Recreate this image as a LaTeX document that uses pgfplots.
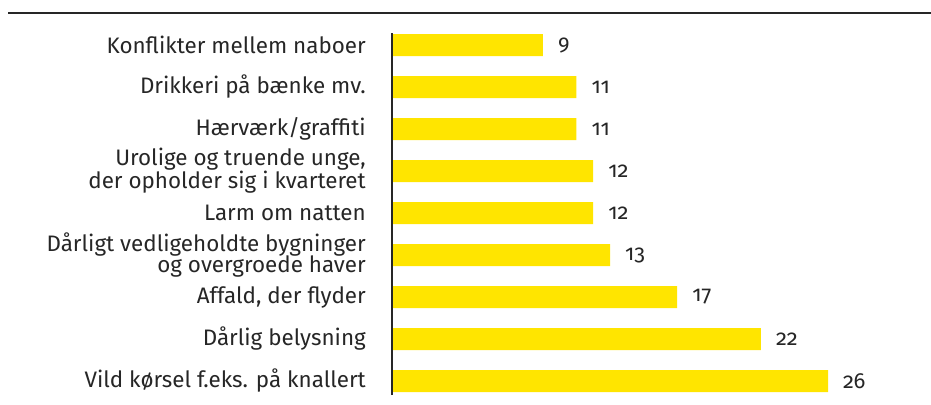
\documentclass[border=0pt]{standalone}
\usepackage{fontspec}
\setmainfont{Fira Sans}[Numbers=OldStyle]
\usepackage{pgfplots}
\pgfplotsset{compat=1.18}
\definecolor{baryellow}{HTML}{FFE500}
\definecolor{txt}{HTML}{262626}
\begin{document}
\begin{tikzpicture}
\begin{axis}[
  at={(392bp,10bp)}, anchor=south west,
  scale only axis, width=436bp, height=362bp,
  xmin=0, xmax=26, ymin=-0.333, ymax=8.286,
  xbar, bar width=22bp,
  axis line style={draw=none},
  xtick=\empty,
  ytick={0,...,8},
  yticklabels={Vild kørsel f.eks. på knallert, Dårlig belysning, {Affald, der flyder}, {Dårligt vedligeholdte bygninger\\og overgroede haver}, Larm om natten, {Urolige og truende unge,\\der opholder sig i kvarteret}, Hærværk/graffiti, Drikkeri på bænke mv., Konflikter mellem naboer},
  major tick length=0pt,
  yticklabel style={align=right, inner sep=0pt, xshift=-26bp, text=txt, font=\fontsize{22.5}{22}\selectfont},
  /pgf/number format/assume math mode=true,
  point meta=x,
  nodes near coords,
  nodes near coords style={anchor=west, inner sep=0pt, xshift=15bp, text=txt, font=\fontsize{22}{22}\selectfont},
  clip=false,
]
\addplot[fill=baryellow, draw=none] coordinates {(26,0) (22,1) (17,2) (13,3) (12,4) (12,5) (11,6) (11,7) (9,8)};
\draw[line width=2bp, txt] (axis cs:0,-0.333) -- (axis cs:0,8.286);
\end{axis}
\draw[line width=1.8bp, txt] (8bp,392bp) -- (931bp,392bp);
\pgfresetboundingbox
\path[use as bounding box] (0,0) rectangle (931bp,405bp);
\end{tikzpicture}
\end{document}
